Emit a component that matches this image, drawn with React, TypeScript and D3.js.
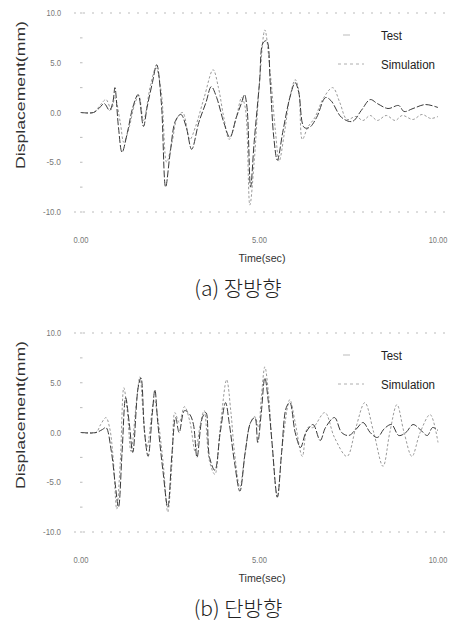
import React from "react";
import * as d3 from "d3";

type Pt = [number, number];

// Panel (a) 장방향 — [time(sec), displacement(mm)]
const longTest: Pt[] = [
  [0, 0], [0.35, 0], [0.5, 0.4], [0.65, 0.9], [0.8, 0.2], [0.9, 1.2], [0.95, 2.5], [1.05, -1.5],
  [1.15, -4.0], [1.3, -2.0], [1.45, 0.5], [1.6, 1.8], [1.75, -1.4], [1.85, 0.5], [2.0, 3.0],
  [2.12, 4.8], [2.25, 1.0], [2.37, -7.5], [2.5, -4], [2.65, -0.8], [2.8, -0.2], [2.95, -1.5],
  [3.1, -3.7], [3.3, -1], [3.5, 1.0], [3.65, 2.6], [3.8, 1.5], [4.0, -1.0], [4.17, -2.5],
  [4.35, -0.5], [4.5, 1.0], [4.58, 1.8], [4.65, 0.5], [4.75, -7.5], [4.85, -3], [5.0, 3],
  [5.1, 7.0], [5.2, 7.2], [5.3, 3], [5.4, -2.5], [5.5, -4.8], [5.65, -2], [5.85, 1.5], [6.0, 3.0],
  [6.1, 2], [6.25, -1.5], [6.4, -1.5], [6.6, -0.5], [6.85, 1.5], [7.0, 1.2], [7.3, -0.5],
  [7.6, -0.9], [7.85, 0.2], [8.1, 1.3], [8.3, 0.9], [8.6, 0.4], [8.9, 0.7], [9.05, 0.1],
  [9.3, 0.4], [9.65, 0.8], [10, 0.5],
];
const longSim: Pt[] = [
  [0, 0], [0.35, 0], [0.55, 0.8], [0.7, 1.3], [0.85, 0.3], [0.95, 1.5], [1.1, -1.0], [1.2, -3.0],
  [1.35, -1.5], [1.5, 0.8], [1.62, 1.7], [1.75, -0.8], [1.95, 2.8], [2.1, 4.5], [2.25, 2],
  [2.4, -5.0], [2.55, -3], [2.7, -0.5], [2.85, 0], [3.05, -2.7], [3.2, -1.5], [3.45, 1.5],
  [3.7, 4.3], [3.85, 2.5], [4.0, -0.5], [4.15, -2.7], [4.35, -0.5], [4.5, 1.5], [4.6, 0.5],
  [4.73, -9.3], [4.85, -5], [5.0, 3], [5.15, 8.3], [5.3, 4], [5.45, -2], [5.55, -4.9], [5.7, -2],
  [5.85, 1.5], [6.0, 3.3], [6.1, 2.2], [6.2, -2.7], [6.35, -1.5], [6.55, -0.5], [6.8, 1.5],
  [7.05, 2.5], [7.25, 1.0], [7.45, -0.7], [7.7, -0.4], [7.9, -0.8], [8.1, -0.3], [8.3, -0.8],
  [8.55, -0.3], [8.8, -0.8], [9.0, -0.3], [9.3, -0.7], [9.55, -0.2], [9.8, -0.6], [10, -0.4],
];

// Panel (b) 단방향
const shortTest: Pt[] = [
  [0, 0], [0.42, 0], [0.6, 0.3], [0.7, 0.5], [0.85, -1.9], [0.95, -4.9], [1.05, -7.5], [1.15, -2],
  [1.25, 3.5], [1.35, 1], [1.45, -2], [1.6, 4.5], [1.68, 5.5], [1.78, 0], [1.88, -2.4], [2.0, 2.0],
  [2.07, 4.3], [2.15, 1], [2.3, -4], [2.43, -7.5], [2.55, -2], [2.65, 1.5], [2.75, 0], [2.9, 2.2],
  [3.05, 1.8], [3.15, 0.8], [3.25, -2.5], [3.4, 1.5], [3.5, 2.0], [3.6, -2.5], [3.75, -3.8],
  [3.9, 0], [4.05, 3.0], [4.15, 1], [4.3, -3], [4.45, -5.9], [4.6, -2], [4.75, 1], [4.87, 1.5],
  [4.95, -1], [5.05, 2], [5.15, 5.5], [5.25, 3], [5.35, -1], [5.5, -6.5], [5.62, -2], [5.75, 2.5],
  [5.85, 3.0], [6.0, 0], [6.15, -1.5], [6.3, 0], [6.5, 0.8], [6.7, -0.8], [6.85, 0.5], [7.1, 1.5],
  [7.3, 0], [7.5, -0.3], [7.7, 0.3], [7.9, 1.0], [8.1, 0], [8.3, -0.5], [8.5, 0.4], [8.7, 0.8],
  [8.9, -0.3], [9.1, 0], [9.3, 0.8], [9.5, 0.3], [9.7, -0.3], [9.85, 0.5], [10, 0.2],
];
const shortSim: Pt[] = [
  [0, 0], [0.42, 0], [0.55, 0.8], [0.7, 1.5], [0.8, 0.5], [0.9, -2.5], [1.0, -7.7], [1.1, -3],
  [1.2, 4.5], [1.3, 2], [1.4, -1.9], [1.55, 3], [1.65, 5.6], [1.75, 1.5], [1.85, -1.5],
  [2.05, 3.3], [2.15, 1.5], [2.3, -3], [2.43, -8], [2.55, -3], [2.63, 2.0], [2.75, 1], [2.9, 2.6],
  [3.05, 1.1], [3.2, -1.9], [3.35, 1], [3.45, 2.2], [3.6, -2.9], [3.75, -4.2], [3.9, 0.5],
  [4.08, 5.3], [4.2, 2], [4.3, -2], [4.45, -5.5], [4.6, -1.9], [4.75, 1], [4.87, 1.6], [4.97, 0.5],
  [5.05, 3.5], [5.15, 6.6], [5.25, 4], [5.35, -1], [5.5, -6.5], [5.65, -1], [5.85, 3.3], [6.0, 1],
  [6.2, -2.4], [6.35, 0.5], [6.5, 0.5], [6.83, 2.0], [7.1, -0.5], [7.45, -2.4], [7.7, 0.5],
  [7.95, 3.0], [8.2, 0], [8.46, -3.4], [8.65, 0], [8.85, 2.8], [9.05, 0], [9.27, -2.4], [9.5, 0],
  [9.78, 1.8], [10, -1.0],
];

const yTicks = [10, 5, 0, -5, -10];
const yTickLabels = ["10.0", "5.0", "0.0", "-5.0", "-10.0"];
const xTicks = [0, 5, 10];
const xTickLabels = ["0.00", "5.00", "10.00"];
const seriesNames = ["Test", "Simulation"];
const captions = ["(a)  장방향", "(b)  단방향"];

const sans = "'Liberation Sans', Arial, sans-serif";

function Panel({ oy, test, sim, caption }: { oy: number; test: Pt[]; sim: Pt[]; caption: string }) {
  const x = d3.scaleLinear().domain([0, 10]).range([81, 438]);
  const y = d3.scaleLinear().domain([-10, 10]).range([212 + oy, 13 + oy]);
  const line = d3
    .line<Pt>()
    .x((d) => x(d[0]))
    .y((d) => y(d[1]))
    .curve(d3.curveCatmullRom.alpha(0.5));
  const minor = d3.range(-10, 10.01, 2.5);
  return (
    <g>
      {[10, -10].map((v) => (
        <line key={v} x1={74} x2={446} y1={y(v)} y2={y(v)} stroke="#aaa" strokeWidth={0.8} strokeDasharray="2,7" />
      ))}
      {minor.map((v) => (
        <line key={"m" + v} x1={x(0) - 1} x2={x(0) + 1.5} y1={y(v)} y2={y(v)} stroke="#aaa" strokeWidth={0.8} />
      ))}
      {yTicks.map((v, i) => (
        <text
          key={v}
          x={61}
          y={y(v) + 3}
          textAnchor="end"
          fontSize={8.5}
          fill="#777"
          fontFamily={sans}
          textLength={yTickLabels[i].length * 3.6}
          lengthAdjust="spacingAndGlyphs"
        >
          {yTickLabels[i]}
        </text>
      ))}
      {xTicks.map((v, i) => (
        <text
          key={v}
          x={x(v)}
          y={243 + oy}
          textAnchor="middle"
          fontSize={8.5}
          fill="#777"
          fontFamily={sans}
          textLength={xTickLabels[i].length * 3.7}
          lengthAdjust="spacingAndGlyphs"
        >
          {xTickLabels[i]}
        </text>
      ))}
      <text
        x={262}
        y={262 + oy}
        textAnchor="middle"
        fontSize={11}
        fill="#333"
        fontFamily={sans}
        textLength={47}
        lengthAdjust="spacingAndGlyphs"
      >
        Time(sec)
      </text>
      <text
        transform={`translate(25,${95 + oy}) rotate(-90)`}
        textAnchor="middle"
        fontSize={13}
        fill="#333"
        fontFamily={sans}
        textLength={148}
        lengthAdjust="spacingAndGlyphs"
      >
        Displacement(mm)
      </text>
      <path d={line(sim) || ""} fill="none" stroke="#9a9a9a" strokeWidth={1} strokeDasharray="2.5,2" />
      <path d={line(test) || ""} fill="none" stroke="#3a3a3a" strokeWidth={1} strokeDasharray="7,2" />
      <line x1={343} x2={350} y1={35 + oy} y2={35 + oy} stroke="#aaa" strokeWidth={0.8} />
      <text x={381} y={40 + oy} fontSize={12} fill="#222" fontFamily={sans} textLength={21} lengthAdjust="spacingAndGlyphs">
        {seriesNames[0]}
      </text>
      <line x1={338} x2={364} y1={64 + oy} y2={64 + oy} stroke="#999" strokeWidth={0.8} strokeDasharray="3,3" />
      <text x={381} y={69 + oy} fontSize={12} fill="#222" fontFamily={sans} textLength={54} lengthAdjust="spacingAndGlyphs">
        {seriesNames[1]}
      </text>
      <text
        x={238}
        y={296 + oy}
        textAnchor="middle"
        fontSize={21}
        fill="#222"
        fontFamily="'Noto Sans CJK KR', sans-serif"
        fontWeight={300}
      >
        {caption}
      </text>
    </g>
  );
}

export default function App() {
  return (
    <svg width={456} height={626} style={{ position: "absolute", left: 0, top: 0, background: "#fff" }}>
      <rect width={456} height={626} fill="#fff" />
      <Panel oy={0} test={longTest} sim={longSim} caption={captions[0]} />
      <Panel oy={320} test={shortTest} sim={shortSim} caption={captions[1]} />
    </svg>
  );
}
